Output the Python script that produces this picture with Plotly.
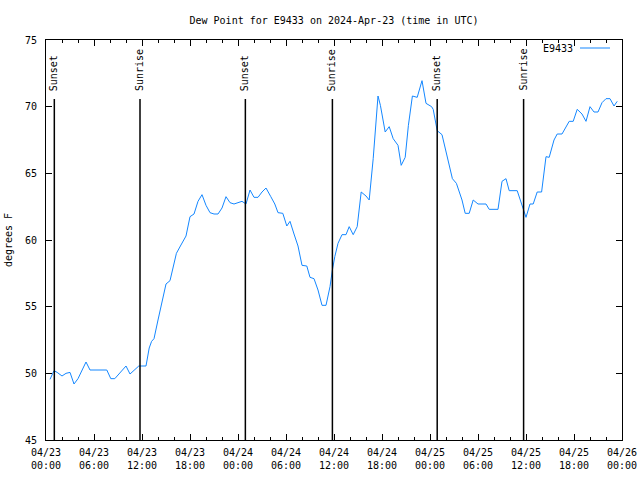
import pandas as pd
import plotly.graph_objects as go

# hours after 2024-04-23 00:00 UTC
hours = [0.5, 1.0, 1.4, 2.0, 2.5, 3.0, 3.5, 4.0, 5.0, 5.5, 7.6, 8.1, 8.6, 10.0, 10.5, 11.6, 12.5,
         12.9, 13.2, 13.5, 14.0, 14.5, 15.0, 15.5, 15.9, 16.3, 16.8, 17.5, 18.0, 18.5, 19.0, 19.5,
         20.0, 20.5, 21.0, 21.5, 22.0, 22.5, 23.0, 23.5, 24.0, 24.5, 25.0, 25.5, 26.0, 26.5, 27.0,
         27.5, 28.1, 28.6, 29.0, 29.6, 30.1, 30.5, 31.0, 31.5, 32.0, 32.6, 33.0, 33.5, 34.0, 34.5,
         35.0, 35.5, 35.8, 36.1, 36.5, 37.0, 37.5, 37.9, 38.4, 38.9, 39.4, 40.0, 40.4, 40.9, 41.5,
         41.8, 42.4, 42.9, 43.4, 44.0, 44.4, 44.9, 45.3, 45.8, 46.4, 47.0, 47.5, 48.2, 48.4, 48.9,
         49.5, 50.3, 50.8, 51.3, 52.0, 52.4, 52.9, 53.4, 54.0, 55.0, 55.4, 56.5, 57.0, 57.5, 57.9,
         58.9, 59.6, 60.0, 60.5, 60.9, 61.4, 61.95, 62.5, 62.9, 63.5, 63.9, 64.5, 65.0, 65.4, 65.9,
         66.4, 67.0, 67.5, 68.0, 68.5, 69.0, 69.5, 70.0, 70.5, 71.0, 71.4]
dewpoint = [49.55, 50.2, 50.07, 49.8, 50.0, 50.07, 49.2, 49.6, 50.85, 50.25, 50.25, 49.6, 49.6, 50.55, 49.95, 50.55, 50.55,
            51.9, 52.4, 52.6, 54.0, 55.25, 56.7, 56.95, 57.95, 59.0, 59.55, 60.3, 61.75, 61.95, 62.9, 63.4,
            62.6, 62.05, 61.95, 61.95, 62.4, 63.25, 62.8, 62.7, 62.8, 62.9, 62.7, 63.75, 63.2, 63.2, 63.6,
            63.9, 63.25, 62.7, 62.05, 62.0, 61.05, 61.4, 60.45, 59.55, 58.1, 58.05, 57.2, 57.1, 56.25, 55.1,
            55.1, 56.5, 57.75, 58.75, 59.75, 60.4, 60.4, 61.0, 60.4, 61.0, 63.6, 63.3, 63.0, 66.1, 70.8,
            70.1, 68.1, 68.5, 67.6, 67.1, 65.6, 66.2, 68.6, 70.8, 70.7, 71.95, 70.25, 70.0, 69.8, 68.2,
            67.9, 65.9, 64.6, 64.25, 63.0, 62.0, 62.0, 63.0, 62.7, 62.7, 62.3, 62.3, 64.4, 64.6, 63.7,
            63.7, 62.4, 61.7, 62.7, 62.7, 63.6, 63.6, 66.25, 66.2, 67.5, 67.95, 67.95, 68.5, 68.9, 68.9,
            69.8, 69.45, 68.9, 70.0, 69.6, 69.6, 70.3, 70.6, 70.6, 70.05, 70.4]

event_hours = [1.04, 11.75, 24.92, 35.8, 48.9, 59.7]
event_labels = ["Sunset", "Sunrise", "Sunset", "Sunrise", "Sunset", "Sunrise"]

tick_hours = list(range(0, 73, 6))
tick_text = ["04/23<br>00:00", "04/23<br>06:00", "04/23<br>12:00", "04/23<br>18:00",
             "04/24<br>00:00", "04/24<br>06:00", "04/24<br>12:00", "04/24<br>18:00",
             "04/25<br>00:00", "04/25<br>06:00", "04/25<br>12:00", "04/25<br>18:00",
             "04/26<br>00:00"]

base = pd.Timestamp("2024-04-23 00:00")
to_t = lambda h: base + pd.Timedelta(hours=h)
times = [to_t(h) for h in hours]

FONT = "DejaVu Sans Mono"
BLUE = "rgb(20,135,255)"
fig = go.Figure()
fig.add_trace(go.Scatter(x=times, y=dewpoint, mode="lines", name="E9433",
                         line=dict(color=BLUE, width=1), showlegend=False))

for h, lab in zip(event_hours, event_labels):
    t = to_t(h)
    fig.add_shape(type="line", xref="x", yref="paper", x0=t, x1=t, y0=0, y1=0.8525,
                  line=dict(color="black", width=1.5))
    fig.add_annotation(x=t, y=0.8675, xref="x", yref="paper", text=lab, textangle=-90,
                       showarrow=False, xanchor="center", yanchor="bottom",
                       font=dict(family=FONT, size=10, color="black"))

# legend (gnuplot style: text then sample line)
fig.add_annotation(x=(575 - 46) / 576, y=1 - 8 / 400, xref="paper", yref="paper", text="E9433",
                   showarrow=False, xanchor="right", yanchor="middle",
                   font=dict(family=FONT, size=10, color="black"))
fig.add_shape(type="line", xref="paper", yref="paper", x0=(580 - 46) / 576, x1=(610 - 46) / 576,
              y0=1 - 8 / 400, y1=1 - 8 / 400, line=dict(color=BLUE, width=1))

fig.update_layout(
    width=640, height=480,
    margin=dict(l=46, r=18, t=40, b=40),
    paper_bgcolor="white", plot_bgcolor="white",
    font=dict(family=FONT, size=10, color="black"),
    title=dict(text="Dew Point for E9433 on 2024-Apr-23 (time in UTC)", x=0.5, xref="paper",
               y=1 - 20 / 480, yanchor="middle", font=dict(family=FONT, size=10)),
    xaxis=dict(type="date", range=[to_t(0), to_t(72)], tickmode="array", automargin=False,
               tickvals=[to_t(h) for h in tick_hours], ticktext=tick_text, ticklabelstandoff=3,
               ticks="inside", ticklen=6, tickcolor="black", showgrid=False, zeroline=False,
               showline=True, linecolor="black", linewidth=1, mirror="ticks",
               minor=dict(dtick=2 * 3600 * 1000, ticks="inside", ticklen=3, tickcolor="black",
                          showgrid=False, tick0=to_t(0))),
    yaxis=dict(range=[45, 75], dtick=5, tick0=45, ticks="inside", ticklen=6, tickcolor="black",
               showgrid=False, zeroline=False, showline=True, linecolor="black", linewidth=1,
               automargin=False, ticklabelstandoff=6,
               mirror="ticks", title=dict(text="degrees F", standoff=10,
                                          font=dict(family=FONT, size=10))),
)

fig.write_html("out.html")
